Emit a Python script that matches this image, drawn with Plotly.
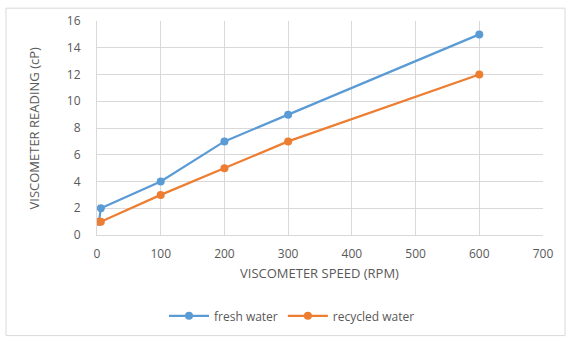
import plotly.graph_objects as go

speed = [3, 6, 100, 200, 300, 600]
fresh_water = [1, 2, 4, 7, 9, 15]
recycled_water = [1, 1, 3, 5, 7, 12]

x_ticks = [0, 100, 200, 300, 400, 500, 600, 700]
y_ticks = [0, 2, 4, 6, 8, 10, 12, 14, 16]

W, H = 568, 343
L, R, T, B = 97, 25, 19, 107
pw, ph = W - L - R, H - T - B

def px(xp):
    return (xp - L) / pw

def py(yp):
    return (H - B - yp) / ph

GREY = "#595959"
FAMILY = "Open Sans, Noto Sans, Arial"
tick_font = dict(family=FAMILY, size=12, color=GREY)
title_font = dict(family=FAMILY, size=13, color=GREY)

fig = go.Figure()
fig.add_trace(go.Scatter(x=speed, y=fresh_water, name="fresh water", mode="lines+markers",
                         line=dict(color="#5b9bd5", width=2.2),
                         marker=dict(color="#5b9bd5", size=8)))
fig.add_trace(go.Scatter(x=speed, y=recycled_water, name="recycled water", mode="lines+markers",
                         line=dict(color="#ed7d31", width=2.2),
                         marker=dict(color="#ed7d31", size=8)))

fig.update_layout(
    width=W, height=H,
    margin=dict(l=L, r=R, t=T, b=B),
    paper_bgcolor="white", plot_bgcolor="white",
    font=tick_font,
    showlegend=True,
    legend=dict(orientation="h", x=px(292), y=py(318), xanchor="center", yanchor="middle",
                font=dict(family=FAMILY, size=12, color=GREY), itemwidth=40),
    xaxis=dict(range=[0, 700], tickvals=x_ticks, showgrid=True, gridcolor="#d9d9d9",
               gridwidth=1, zeroline=False, showline=True, linecolor="#d9d9d9",
               ticks="", tickfont=tick_font, ticklabelstandoff=8),
    yaxis=dict(range=[0, 16], tickvals=y_ticks, showgrid=True, gridcolor="#d9d9d9",
               gridwidth=1, zeroline=False, showline=True, linecolor="#d9d9d9",
               ticks="", tickfont=tick_font, ticklabelstandoff=13),
    shapes=[dict(type="rect", xref="paper", yref="paper",
                 x0=px(6), x1=px(565), y0=py(338), y1=py(6),
                 line=dict(color="#d9d9d9", width=1), fillcolor="rgba(0,0,0,0)")],
    annotations=[
        dict(text="VISCOMETER SPEED (RPM)", xref="paper", yref="paper",
             x=px(319), y=py(275), xanchor="center", yanchor="middle",
             showarrow=False, font=title_font),
        dict(text="VISCOMETER READING (cP)", xref="paper", yref="paper",
             x=px(34), y=py(128), xanchor="center", yanchor="middle", textangle=-90,
             showarrow=False, font=title_font),
    ],
)

fig.write_html("out.html")
